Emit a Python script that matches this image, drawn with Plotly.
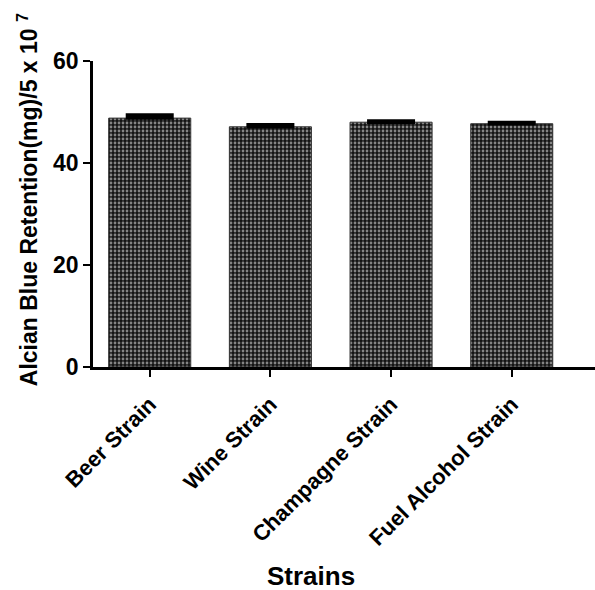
import plotly.graph_objects as go

strains = ["Beer Strain", "Wine Strain", "Champagne Strain", "Fuel Alcohol Strain"]
retention = [48.8, 47.1, 48.0, 47.7]
error_up = [0.6, 0.4, 0.25, 0.25]
error_down = [0, 0, 0, 0]
y_ticks = [0, 20, 40, 60]

FONT = "Liberation Sans, Arial, sans-serif"

fig = go.Figure()
fig.add_trace(go.Bar(
    x=list(range(len(strains))),
    y=retention,
    width=0.68,
    marker=dict(
        color="#222222",
        line=dict(color="#333333", width=1),
        pattern=dict(shape=".", bgcolor="#141414", fgcolor="#858585",
                     size=4, solidity=0.38, fillmode="replace"),
    ),
    error_y=dict(type="data", array=error_up, arrayminus=error_down,
                 symmetric=False, color="black", thickness=3.5, width=24),
))

fig.update_layout(
    width=595, height=590,
    margin=dict(l=93, r=0, t=61, b=223),
    plot_bgcolor="white", paper_bgcolor="white",
    showlegend=False,
    font=dict(family=FONT, color="black"),
    xaxis=dict(
        range=[-0.47, 3.69],
        tickmode="array", tickvals=list(range(len(strains))), ticktext=strains,
        tickangle=-45,
        tickfont=dict(size=22, family=FONT, weight="bold"),
        ticklabelstandoff=6,
        showline=True, linecolor="black", linewidth=2.5,
        ticks="outside", ticklen=7, tickwidth=2, tickcolor="black",
        showgrid=False, zeroline=False,
    ),
    yaxis=dict(
        range=[0, 60],
        tickmode="array", tickvals=y_ticks,
        tickfont=dict(size=23, family=FONT, weight="bold"),
        showline=True, linecolor="black", linewidth=2.5,
        ticks="outside", ticklen=7, tickwidth=2, tickcolor="black",
        showgrid=False, zeroline=False,
    ),
    annotations=[
        dict(text="Alcian Blue Retention(mg)/5 x 10 <sup>7</sup>",
             xref="paper", yref="paper", x=0, y=0.545,
             xanchor="center", yanchor="middle", xshift=-65,
             textangle=-90, showarrow=False,
             font=dict(size=23, family=FONT, weight="bold")),
        dict(text="Strains",
             xref="paper", yref="paper", x=0.434, y=-0.683,
             xanchor="center", yanchor="middle", showarrow=False,
             font=dict(size=26, family=FONT, weight="bold")),
    ],
)

fig.write_html("out.html")
